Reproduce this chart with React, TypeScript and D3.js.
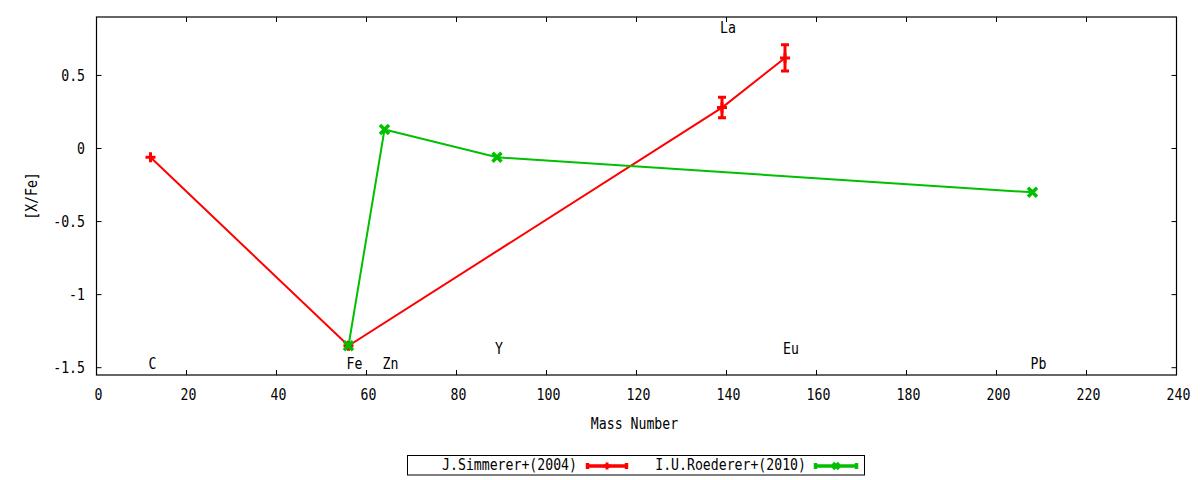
import React from "react";
import * as d3 from "d3";

const xTicks = [0, 20, 40, 60, 80, 100, 120, 140, 160, 180, 200, 220, 240];
const yTicks = [-1.5, -1, -0.5, 0, 0.5];
const yTickLabels = ["-1.5", "-1", "-0.5", "0", "0.5"];

// J.Simmerer+(2004)
const simMass = [12, 56, 139, 153];
const simVal = [-0.06, -1.35, 0.28, 0.62];
const simErr = [0, 0, 0.07, 0.09];

// I.U.Roederer+(2010)
const roeMass = [56, 64, 89, 208];
const roeVal = [-1.35, 0.13, -0.06, -0.3];

const elemNames = ["C", "Fe", "Zn", "Y", "La", "Eu", "Pb"];
const elemMass = [12, 56, 64, 89, 139, 153, 208];
const elemLabelY = [-1.47, -1.47, -1.47, -1.37, 0.83, -1.37, -1.47];

const RED = "#ff0000";
const GREEN = "#00c000";
const FONT = "'DejaVu Sans Mono', monospace";

const Txt = ({ x, y, anchor = "start", rotate = 0, children }: any) => (
  <text
    transform={`translate(${x},${y}) rotate(${rotate}) scale(0.88,1)`}
    textAnchor={anchor}
    dominantBaseline="central"
    fontFamily={FONT}
    fontSize={15}
    fill="#000"
  >
    {children}
  </text>
);

const Plus = ({ x, y, r = 5, color }: any) => (
  <path d={`M${x - r},${y}H${x + r}M${x},${y - r}V${y + r}`} stroke={color} strokeWidth={3} fill="none" />
);
const Cross = ({ x, y, r = 4.5, color }: any) => (
  <path d={`M${x - r},${y - r}L${x + r},${y + r}M${x - r},${y + r}L${x + r},${y - r}`} stroke={color} strokeWidth={3.5} fill="none" />
);

export default function App() {
  const W = 1200, H = 480;
  const left = 96.5, right = 1176.5, top = 17, bottom = 375;
  const x = d3.scaleLinear().domain([0, 240]).range([left, right]);
  const y = d3.scaleLinear().domain([-1.55, 0.9]).range([bottom, top]);
  const line = d3.line<[number, number]>().x((d) => x(d[0])).y((d) => y(d[1]));
  const simPts = simMass.map((m, i) => [m, simVal[i]] as [number, number]);
  const roePts = roeMass.map((m, i) => [m, roeVal[i]] as [number, number]);
  const tl = 5;

  return (
    <svg width={W} height={H} style={{ position: "absolute", left: 0, top: 0, background: "#fff" }}>
      <rect x={0} y={0} width={W} height={H} fill="#fff" />
      {/* ticks */}
      {xTicks.map((t) => (
        <g key={"xt" + t}>
          <line x1={x(t)} x2={x(t)} y1={bottom} y2={bottom - tl} stroke="#000" />
          <line x1={x(t)} x2={x(t)} y1={top} y2={top + tl} stroke="#000" />
          <Txt x={x(t) + 2} y={395} anchor="middle">{String(t)}</Txt>
        </g>
      ))}
      {yTicks.map((t, i) => (
        <g key={"yt" + t}>
          <line x1={left} x2={left + tl} y1={y(t)} y2={y(t)} stroke="#000" />
          <line x1={right} x2={right - tl} y1={y(t)} y2={y(t)} stroke="#000" />
          <Txt x={85} y={y(t)} anchor="end">{yTickLabels[i]}</Txt>
        </g>
      ))}
      <rect x={left} y={top} width={right - left} height={bottom - top} fill="none" stroke="#000" strokeWidth={1.2} />

      {/* element labels */}
      {elemNames.map((n, i) => (
        <Txt key={"el" + n} x={x(elemMass[i]) - 2} y={y(elemLabelY[i])}>{n}</Txt>
      ))}

      {/* Simmerer */}
      <path d={line(simPts) || ""} fill="none" stroke={RED} strokeWidth={2} />
      {simPts.map((p, i) => (
        <g key={"s" + i}>
          {simErr[i] > 0 && (
            <path
              d={`M${x(p[0])},${y(p[1] - simErr[i])}V${y(p[1] + simErr[i])}M${x(p[0]) - 4},${y(p[1] - simErr[i])}H${x(p[0]) + 4}M${x(p[0]) - 4},${y(p[1] + simErr[i])}H${x(p[0]) + 4}`}
              stroke={RED}
              strokeWidth={3}
              fill="none"
            />
          )}
          <Plus x={x(p[0])} y={y(p[1])} color={RED} />
        </g>
      ))}

      {/* Roederer */}
      <path d={line(roePts) || ""} fill="none" stroke={GREEN} strokeWidth={2} />
      {roePts.map((p, i) => (
        <Cross key={"r" + i} x={x(p[0])} y={y(p[1])} color={GREEN} />
      ))}

      {/* axis titles */}
      <Txt x={(left + right) / 2 - 2} y={424} anchor="middle">Mass Number</Txt>
      <Txt x={32} y={(top + bottom) / 2} anchor="middle" rotate={-90}>[X/Fe]</Txt>

      {/* legend */}
      <rect x={407.5} y={455.5} width={457} height={19.5} fill="#fff" stroke="#000" strokeWidth={1} />
      <Txt x={577} y={465} anchor="end">J.Simmerer+(2004)</Txt>
      <path d="M586,466H628M587.5,463V469M626.5,463V469" stroke={RED} strokeWidth={3.5} fill="none" />
      <Plus x={607} y={466} color={RED} r={3.5} />
      <Txt x={806} y={465} anchor="end">I.U.Roederer+(2010)</Txt>
      <path d="M814,466H858M815.5,463V469M856.5,463V469" stroke={GREEN} strokeWidth={3.5} fill="none" />
      <Cross x={836} y={466} color={GREEN} r={3} />
    </svg>
  );
}
